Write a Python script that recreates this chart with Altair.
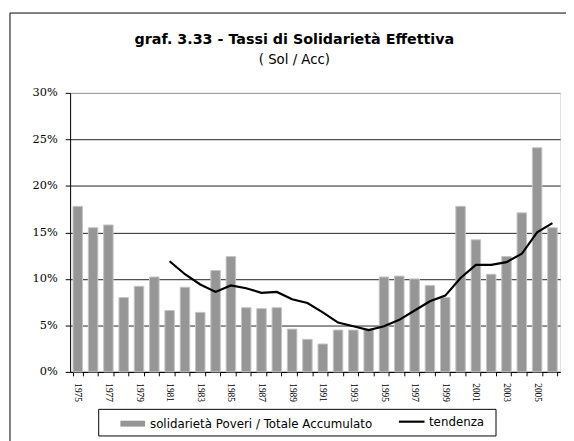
import altair as alt
import pandas as pd

years = [str(y) for y in range(1975, 2007)]
bar_values = [17.8, 15.5, 15.8, 8.0, 9.2, 10.2, 6.6, 9.1, 6.4, 10.9, 12.4, 6.9, 6.8, 6.9,
              4.6, 3.5, 3.0, 4.5, 4.5, 4.6, 10.2, 10.3, 10.0, 9.3, 8.0, 17.8, 14.2, 10.5,
              12.4, 17.1, 24.1, 15.5]
trend_years = [str(y) for y in range(1981, 2007)]
trend_values = [11.9, 10.5, 9.4, 8.6, 9.3, 9.0, 8.5, 8.6, 7.8, 7.4, 6.4, 5.3, 4.9, 4.5,
                4.9, 5.6, 6.6, 7.6, 8.2, 10.1, 11.5, 11.5, 11.8, 12.7, 15.0, 16.0]
series = ["solidarietà Poveri / Totale Accumulato", "tendenza"]
y_ticks = [0, 0.05, 0.10, 0.15, 0.20, 0.25, 0.30]

bars_df = pd.DataFrame({"anno": years, "valore": [v / 100 for v in bar_values], "serie": series[0]})
trend_df = pd.DataFrame({"anno": trend_years, "valore": [v / 100 for v in trend_values], "serie": series[1]})

SANS = "DejaVu Sans"
SERIF = "DejaVu Serif"

fill = alt.Fill(
    "serie:N",
    scale=alt.Scale(domain=[series[0]], range=["#969696"]),
    legend=alt.Legend(
        title=None, orient="none", legendX=51, legendY=323, direction="horizontal",
        symbolType="M-1,-0.24L1,-0.24L1,0.24L-1,0.24Z", symbolSize=625,
        symbolStrokeWidth=0, symbolOpacity=1,
        labelFont=SANS, labelFontSize=12, labelColor="black",
        labelOffset=5, padding=0, labelLimit=400,
    ),
)
stroke = alt.Stroke(
    "serie:N",
    scale=alt.Scale(domain=[series[1]], range=["black"]),
    legend=alt.Legend(
        title=None, orient="none", legendX=332, legendY=319, direction="horizontal",
        symbolType="stroke", symbolSize=676, symbolStrokeWidth=2.2, symbolOpacity=1,
        labelFont=SANS, labelFontSize=12, labelColor="black",
        labelOffset=3, padding=0, labelLimit=400,
    ),
)

x = alt.X(
    "anno:O",
    scale=alt.Scale(paddingInner=0.38, paddingOuter=0.19),
    axis=alt.Axis(
        title=None, tickBand="extent", labelAngle=90, labelAlign="left", labelBaseline="middle",
        labelExpr="toNumber(datum.value) % 2 == 1 ? datum.value : ''",
        labelFont="Liberation Serif", labelFontSize=9.5, labelColor="black", labelPadding=7,
        tickSize=4, tickColor="black", domainColor="black", grid=False,
    ),
)
y = alt.Y(
    "valore:Q",
    scale=alt.Scale(domain=[0, 0.3]),
    axis=alt.Axis(
        title=None, values=y_ticks, format=".0%", labelFont=SERIF, labelFontSize=11.5,
        labelColor="black", labelPadding=8, tickSize=5, tickColor="black", domainColor="black",
        grid=True,
        gridColor={"condition": {"test": "datum.value >= 0.3", "value": "#999999"}, "value": "#222222"},
        gridWidth=1,
    ),
)

frame = alt.Chart(alt.Data(values=[{"k": 1}])).mark_rect(
    fill="white", fillOpacity=0, stroke="black", strokeWidth=1
).encode(x=alt.value(-61), x2=alt.value(520), y=alt.value(-81), y2=alt.value(400))

legend_box = alt.Chart(alt.Data(values=[{"k": 1}])).mark_rect(
    fill="white", fillOpacity=0, stroke="black", strokeWidth=1
).encode(x=alt.value(29), x2=alt.value(432), y=alt.value(321), y2=alt.value(348))

bars = alt.Chart(bars_df).mark_bar(stroke="#c4c4c4", strokeWidth=1).encode(x=x, y=y, fill=fill)
line = alt.Chart(trend_df).mark_line(strokeWidth=2.2).encode(x=x, y=y, stroke=stroke)

chart = alt.layer(frame, bars, line, legend_box).properties(
    width=497, height=283,
    padding={"left": 63, "top": 83, "right": 6, "bottom": 67},
    autosize=alt.AutoSizeParams(type="none"),
    title=alt.Title(
        "graf. 3.33 - Tassi di Solidarietà Effettiva", subtitle="( Sol / Acc)",
        font=SANS, fontSize=14.5, fontWeight="bold", color="black",
        subtitleFont=SANS, subtitleFontSize=13.5, subtitleColor="black",
        subtitlePadding=6, anchor="middle", dx=-21, offset=-56,
    ),
).resolve_scale(fill="independent", stroke="independent").configure_view(
    stroke="#999999", strokeWidth=1.5
).configure(background="white")

chart.save("out.html", embed_options={"renderer": "svg", "actions": False})
